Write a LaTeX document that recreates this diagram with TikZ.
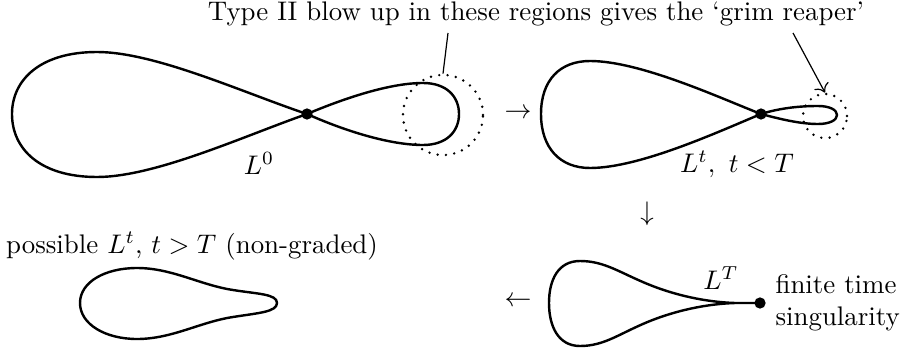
\documentclass[tikz,border=0pt]{standalone}
\usepackage{amsmath,amssymb}
\usepackage{tikz}
\usetikzlibrary{arrows.meta,positioning,calc}

\begin{document}
\begin{tikzpicture}[x=0.372pt,y=-0.372pt,
  curve/.style={line width=0.9pt,line join=round},
  dot/.style={circle,fill,inner sep=0pt,minimum size=4.2pt},
  region/.style={circle,draw,line width=1pt,line cap=round,dash pattern=on 0pt off 3.1pt,inner sep=0pt},
  pointer/.style={line width=0.45pt}]
  \useasboundingbox (0,0) rectangle (901,350);
  \node[anchor=base] (title) at (536,21) {Type II blow up in these regions gives the `grim reaper'};
  \coordinate (from0) at (448,33);
  \coordinate (from1) at (793,33);
  \draw[curve] (307,114) .. controls (244,93) and (155,52) .. (97,52)
    .. controls (40,52) and (12,80) .. (12,114)
    .. controls (12,149) and (40,177) .. (97,177)
    .. controls (155,177) and (244,136) .. (307,114)
    .. controls (345,98) and (390,83) .. (423,83)
    .. controls (447,83) and (459,97) .. (459,114)
    .. controls (459,131) and (447,145) .. (423,145)
    .. controls (390,145) and (345,131) .. (307,114);
  \node[dot] (x0) at (307,114) {};
  \node[region,minimum size=29.8pt] (reg0) at (443,115) {};
  \node[anchor=base] (lab0) at (259,174) {$L^0$};
  \node (step0) at (518,114) {$\rightarrow$};
  \draw[curve] (761,114) .. controls (720,98) and (640,61) .. (590,61)
    .. controls (560,61) and (541,80) .. (541,114)
    .. controls (541,148) and (560,168) .. (590,168)
    .. controls (640,168) and (720,131) .. (761,114)
    .. controls (780,108) and (800,106) .. (818,106)
    .. controls (830,106) and (837,110) .. (837,115)
    .. controls (837,120) and (830,124) .. (818,124)
    .. controls (800,124) and (780,119) .. (761,114);
  \node[dot] (x1) at (761,114) {};
  \node[region,minimum size=16.4pt] (reg1) at (825,116) {};
  \node[anchor=base] (lab1) at (737,172) {$L^t,\ t<T$};
  \draw[pointer] (from0) -- (reg0.north);
  \draw[pointer,-{To[length=3pt,width=6pt]}] (from1) -- (reg1.north);
  \node (step1) at (647,214) {$\downarrow$};
  \draw[curve] (760,303) -- (735,303) .. controls (705,302) and (675,295) .. (650,285)
    .. controls (620,273) and (605,261) .. (580,261)
    .. controls (558,261) and (549,280) .. (549,303)
    .. controls (549,326) and (558,346) .. (580,346)
    .. controls (605,346) and (620,333) .. (650,321)
    .. controls (675,311) and (705,304) .. (735,303) -- (760,303);
  \node[dot] (sing) at (760,303) {};
  \node[anchor=base] (lab2) at (721,289) {$L^T$};
  \node[anchor=west,align=left,inner sep=0pt] (note) at (775,303) {finite time\\singularity};
  \node (step2) at (518,302) {$\leftarrow$};
  \node[anchor=base] (lab3) at (192,253) {possible $L^t$, $t>T$ (non-graded)};
  \draw[curve] (80,303) .. controls (80,282) and (105,268) .. (137,268)
    .. controls (172,268) and (200,285) .. (233,290)
    .. controls (258,294) and (277,294) .. (277,303)
    .. controls (277,312) and (258,313) .. (233,317)
    .. controls (200,322) and (172,339) .. (137,339)
    .. controls (105,339) and (80,324) .. (80,303) -- cycle;
\end{tikzpicture}
\end{document}
